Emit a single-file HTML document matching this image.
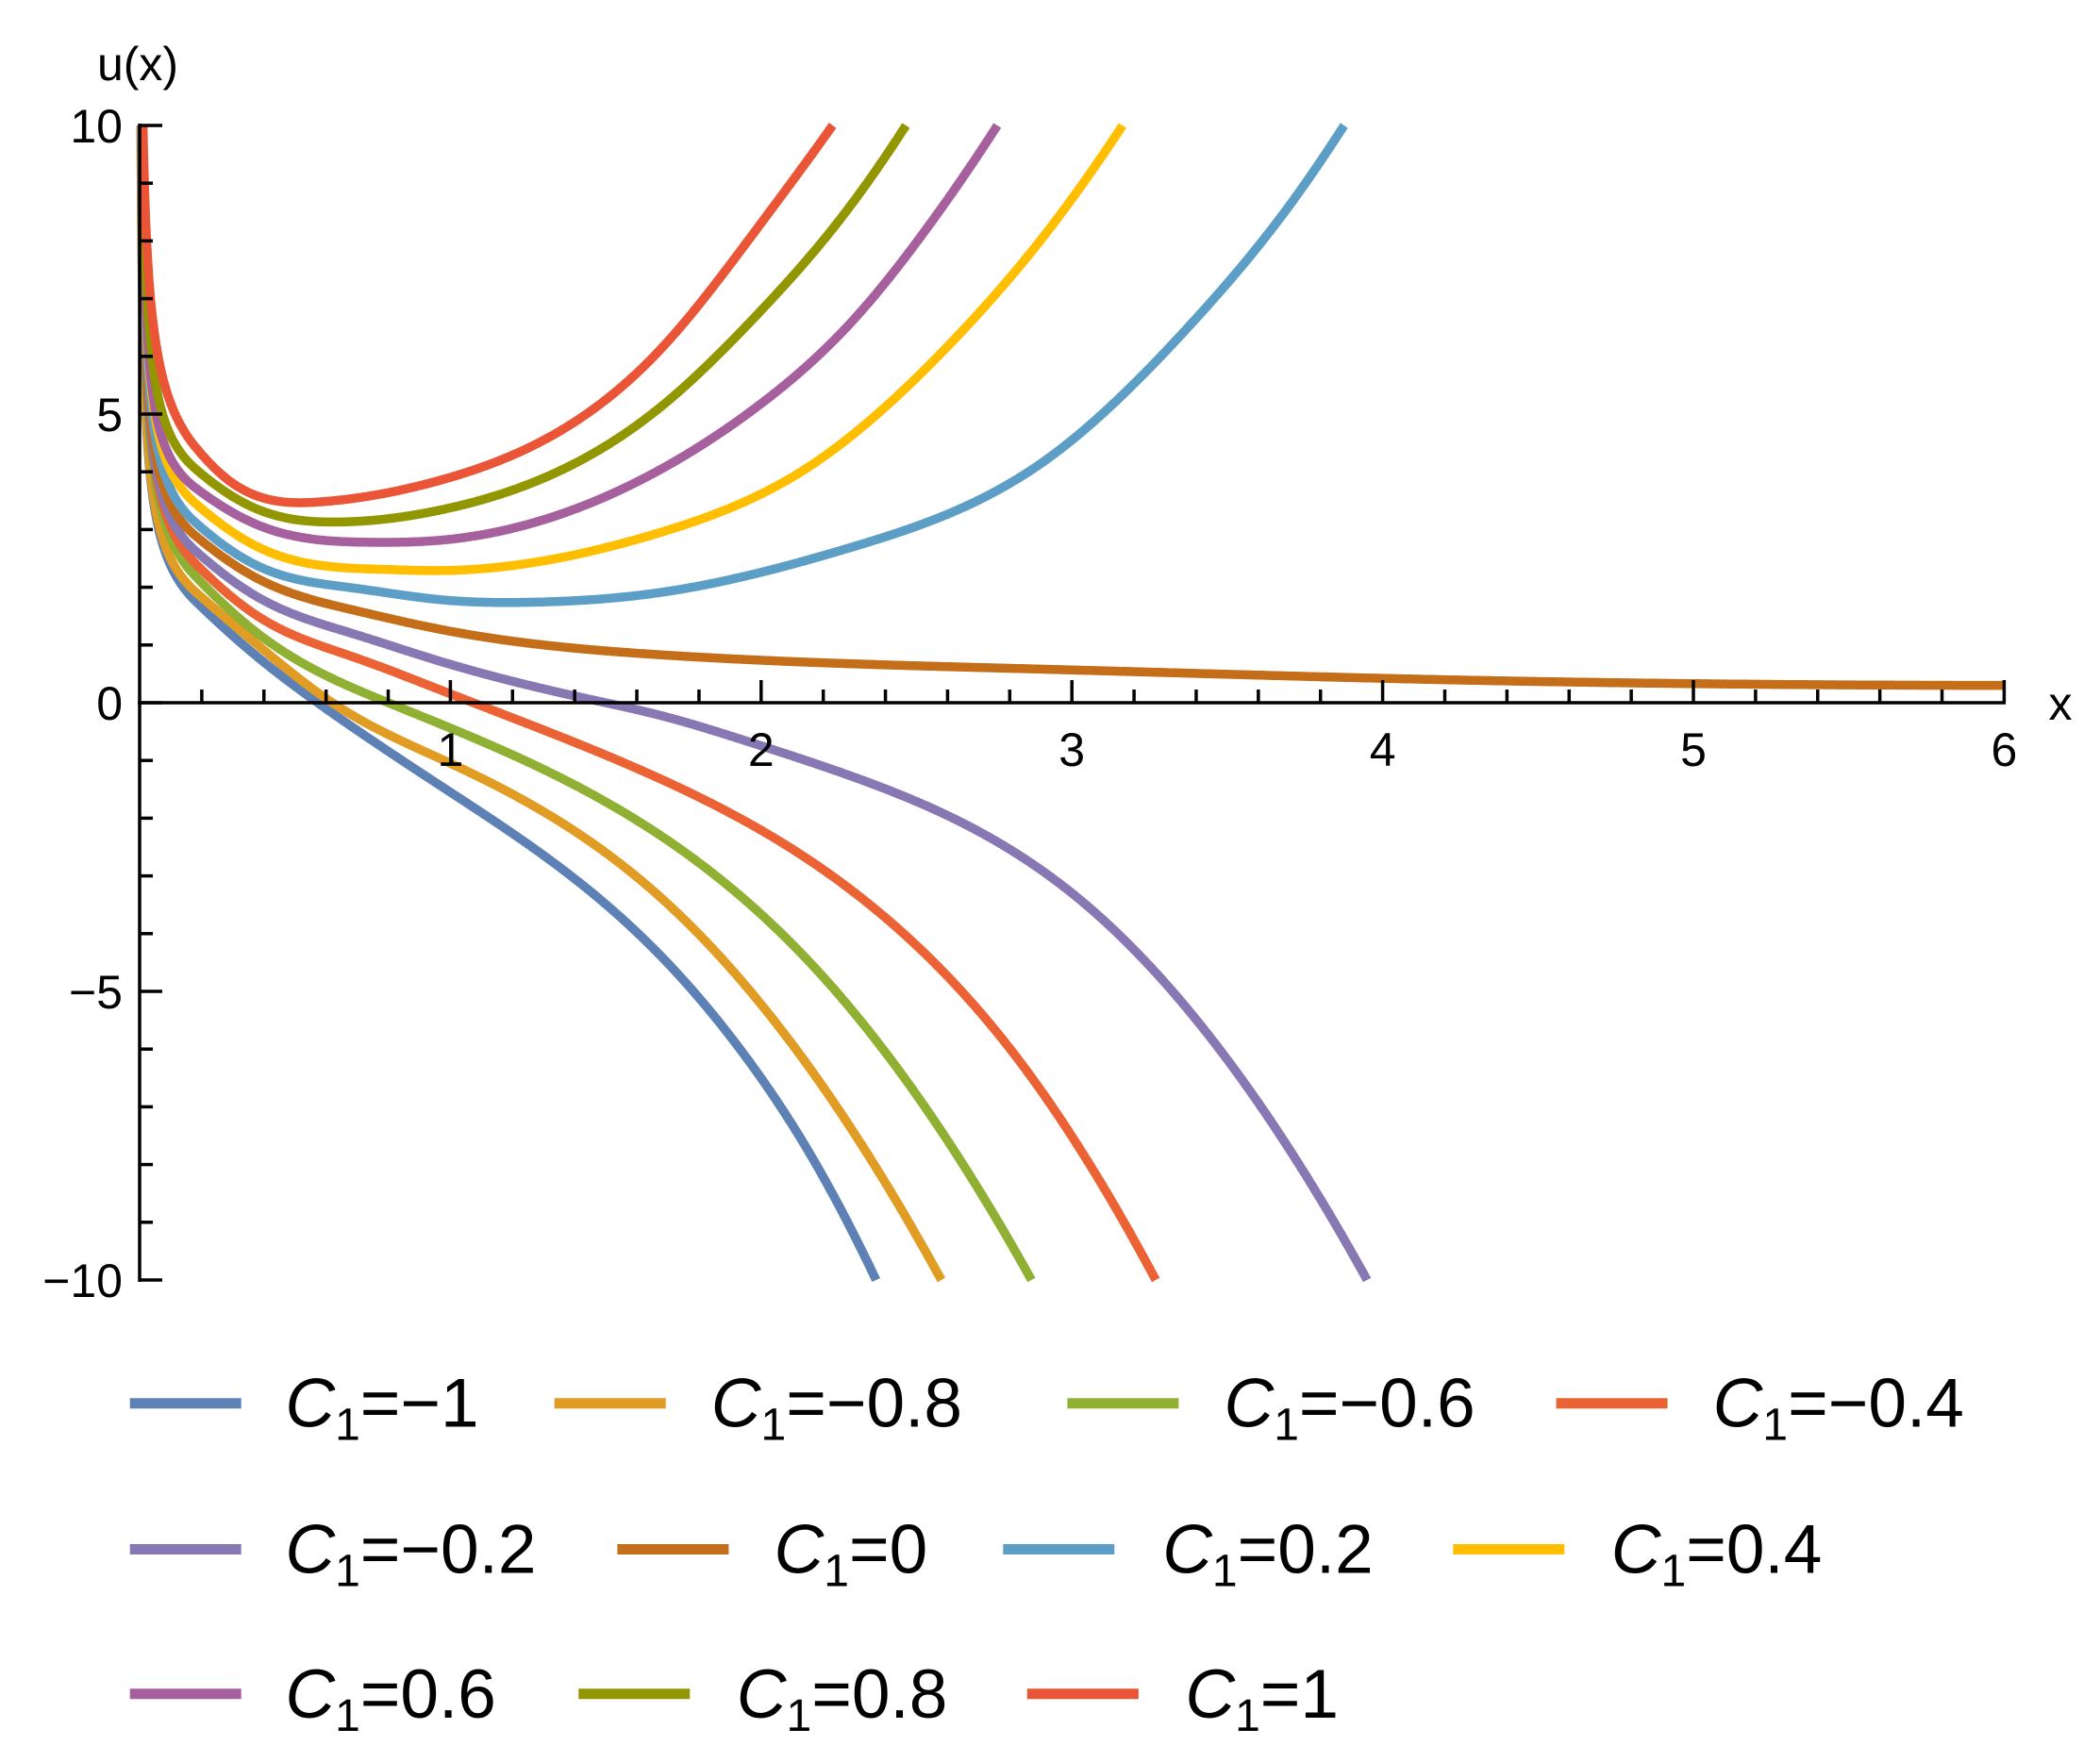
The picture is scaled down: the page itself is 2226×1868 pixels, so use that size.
<!DOCTYPE html>
<html><head><meta charset="utf-8"><style>
html,body{margin:0;padding:0;background:#fff}
svg{display:block}
text{font-family:"Liberation Sans",sans-serif}
</style></head><body>
<svg id="s" xmlns="http://www.w3.org/2000/svg" width="2226" height="1868" viewBox="0 0 2226 1868">
<g id="curves" fill="none" stroke-width="9.5" stroke-linejoin="round"></g>
<g id="axes" stroke="#000" stroke-width="3.5" fill="none"></g>
<g id="labels" font-size="50" fill="#000"></g>
<g id="legend"></g>
</svg>
<script>
var NS="http://www.w3.org/2000/svg";
function X(x){return 148+329.4*x}
function Y(u){return 745-61.2*u}
function el(t,a,p,txt){var e=document.createElementNS(NS,t);for(var k in a)e.setAttribute(k,a[k]);if(txt!=null)e.textContent=txt;p.appendChild(e);return e}
var cols=["#5E81B5","#E19C24","#8FB032","#EB6235","#8778B3","#C56E1A","#5D9EC7","#FFBF00","#A5609D","#929600","#E95536"];
var data=[
[[0.178,1.77],[0.38,0.79],[0.573,0],[1,-1.55],[1.676,-4.38],[1.95,-6.13],[2.15,-7.75],[2.37,-10]],
[[0.178,1.93],[0.38,1.0],[0.62,0],[1,-1.05],[1.676,-3.37],[2.12,-6.06],[2.58,-10]],
[[0.178,2.2],[0.38,1.2],[0.8,0],[1.676,-2.3],[2.15,-4.46],[2.62,-7.75],[2.87,-10]],
[[0.178,2.42],[0.38,1.5],[0.684,0.8],[0.978,0.2],[1.676,-1.32],[2.35,-3.5],[2.84,-6.27],[3.27,-10]],
[[0.178,2.64],[0.38,1.83],[0.684,1.2],[0.978,0.7],[1.44,0.07],[1.676,-0.22],[1.985,-0.72],[2.35,-1.39],[3.03,-3.43],[3.8,-8.6],[3.95,-10]],
[[0.178,2.9],[0.38,2.15],[0.684,1.61],[0.978,1.26],[1.676,0.83],[2.915,0.58],[4.1,0.41],[6,0.3]],
[[0.178,3.13],[0.38,2.37],[0.684,1.99],[0.978,1.78],[1.25,1.74],[1.676,1.91],[2.295,2.70],[2.915,4.2],[3.38,6.54],[3.69,8.54],[3.876,10]],
[[0.178,3.46],[0.38,2.7],[0.785,2.31],[0.978,2.29],[1.676,2.95],[2.14,4.04],[2.605,6.2],[2.915,8.12],[3.163,10]],
[[0.178,3.73],[0.38,3.08],[0.735,2.78],[0.978,2.82],[1.676,4.04],[1.985,5.12],[2.295,6.62],[2.543,8.29],[2.76,10]],
[[0.178,4.06],[0.38,3.35],[0.63,3.13],[0.978,3.35],[1.676,5.12],[1.985,6.71],[2.265,8.45],[2.466,10]],
[[0.178,4.44],[0.28,3.88],[0.583,3.48],[0.978,3.87],[1.676,6.12],[1.985,8.2],[2.23,10]]
];
var x10=[0.004,0.0045,0.005,0.0055,0.006,0.0065,0.007,0.0075,0.008,0.0095,0.011];
function qd(a,b,c,at){
  var x0=a[0],x1=b[0],x2=c[0];
  return a[1]*((2*at-x1-x2)/((x0-x1)*(x0-x2)))+b[1]*((2*at-x0-x2)/((x1-x0)*(x1-x2)))+c[1]*((2*at-x0-x1)/((x2-x0)*(x2-x1)));
}
function spline(p,s0,sn){
  var n=p.length,h=[],i;
  for(i=0;i<n-1;i++)h.push(p[i+1][0]-p[i][0]);
  var A=[],B=[],C=[],D=[];
  for(i=0;i<n;i++){
    if(i==0){A[i]=0;B[i]=2*h[0];C[i]=h[0];D[i]=6*((p[1][1]-p[0][1])/h[0]-s0);}
    else if(i==n-1){A[i]=h[n-2];B[i]=2*h[n-2];C[i]=0;D[i]=6*(sn-(p[n-1][1]-p[n-2][1])/h[n-2]);}
    else{A[i]=h[i-1];B[i]=2*(h[i-1]+h[i]);C[i]=h[i];D[i]=6*((p[i+1][1]-p[i][1])/h[i]-(p[i][1]-p[i-1][1])/h[i-1]);}
  }
  for(i=1;i<n;i++){var m=A[i]/B[i-1];B[i]-=m*C[i-1];D[i]-=m*D[i-1];}
  var M=[];M[n-1]=D[n-1]/B[n-1];
  for(i=n-2;i>=0;i--)M[i]=(D[i]-C[i]*M[i+1])/B[i];
  return function(x){var i=0;while(i<n-2&&x>p[i+1][0])i++;var hh=h[i],a=(p[i+1][0]-x)/hh,b=(x-p[i][0])/hh;
    return a*p[i][1]+b*p[i+1][1]+((a*a*a-a)*M[i]+(b*b*b-b)*M[i+1])*hh*hh/6;};
}
var cg=document.getElementById("curves");
data.forEach(function(pts,k){
  var n=pts.length;
  var s0=qd(pts[0],pts[1],pts[2],pts[0][0]);
  var sn=qd(pts[n-3],pts[n-2],pts[n-1],pts[n-1][0]);
  var f=spline(pts,s0,sn);
  var x0=pts[0][0],u0=pts[0][1],xs=x10[k];
  var r=x0/xs;
  function g(p){return u0+(-s0*x0/p)*(Math.pow(r,p)-1)-10;}
  var lo=0.02,hi=6;for(var it=0;it<60;it++){var mid=(lo+hi)/2;if(g(mid)>0)hi=mid;else lo=mid;}
  var p=(lo+hi)/2,kk=-s0*Math.pow(x0,p+1)/p,c=u0-kk*Math.pow(x0,-p);
  var s="",first=true;
  function add(x,u){if(u>10)u=10;if(u<-10)u=-10;s+=(first?"M":"L")+X(x).toFixed(1)+","+Y(u).toFixed(1);first=false;}
  for(var t=0;t<=80;t++){var x=xs*Math.pow(x0/xs,t/80);add(x,c+kk*Math.pow(x,-p));}
  var xe=pts[n-1][0];
  for(var x=x0+0.004;x<xe;x+=0.004)add(x,f(x));
  add(xe,pts[n-1][1]);
  el("path",{d:s,stroke:cols[k]},cg);
});
var ag=document.getElementById("axes");
el("line",{x1:148,y1:131,x2:148,y2:1359},ag);
el("line",{x1:146,y1:745,x2:2126,y2:745},ag);
for(var u=-10;u<=10;u++){var maj=(u%5==0);el("line",{x1:148,y1:Y(u),x2:148+(maj?24:14),y2:Y(u)},ag);}
for(var i=1;i<=30;i++){var x=i*0.2,maj=(i%5==0);el("line",{x1:X(x),y1:745,x2:X(x),y2:745-(maj?24:14)},ag);}
var lg=document.getElementById("labels");
[1,2,3,4,5,6].forEach(function(v){el("text",{x:X(v),y:812,"text-anchor":"middle"},lg,String(v));});
[[10,"10"],[5,"5"],[0,"0"],[-5,"\u22125"],[-10,"\u221210"]].forEach(function(p){el("text",{x:130,y:Y(p[0])+18,"text-anchor":"end"},lg,p[1]);});
el("text",{x:146,y:85,"text-anchor":"middle"},lg,"u(x)");
el("text",{x:2184,y:763,"text-anchor":"middle"},lg,"x");
var lgd=document.getElementById("legend");
var rows=[[1048,[[97,213,"\u22121"],[414,531,"\u22120.8"],[797,914,"\u22120.6"],[1162,1279,"\u22120.4"]]],
[1157,[[97,213,"\u22120.2"],[461,578,"0"],[749,868,"0.2"],[1085,1203,"0.4"]]],
[1265,[[97,213,"0.6"],[432,550,"0.8"],[767,885,"1"]]]];
var S=1.4196,ci=0;
rows.forEach(function(r){var cy=r[0]*S;r[1].forEach(function(it){
  el("line",{x1:it[0]*S,y1:cy,x2:it[0]*S+118,y2:cy,stroke:cols[ci],"stroke-width":11},lgd);ci++;
  var t=el("text",{x:it[1]*S,y:cy+25,"font-size":73,fill:"#000"},lgd);
  el("tspan",{"font-style":"italic"},t,"C");
  el("tspan",{"font-size":48,dy:14},t,"1");
  el("tspan",{dy:-14},t,"="+it[2]);
});});
</script>
</body></html>
